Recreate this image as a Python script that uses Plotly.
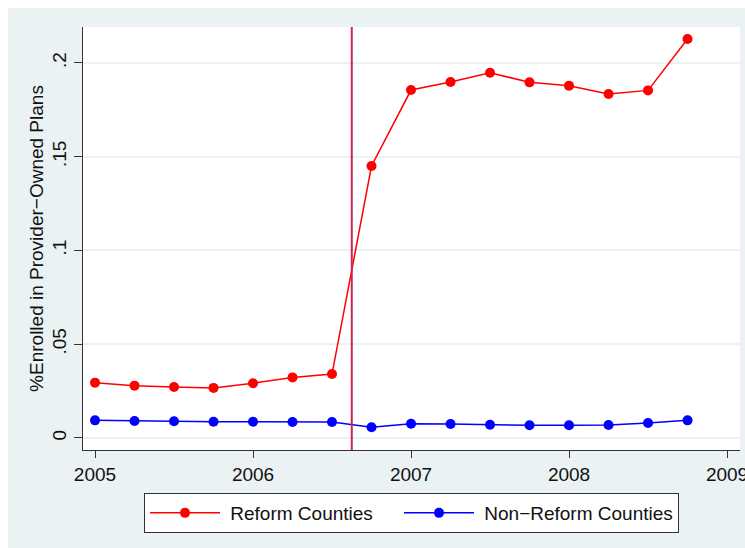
import plotly.graph_objects as go

# Quarterly observation dates (decimal years)
quarters = [2005.0, 2005.25, 2005.5, 2005.75,
            2006.0, 2006.25, 2006.5, 2006.75,
            2007.0, 2007.25, 2007.5, 2007.75,
            2008.0, 2008.25, 2008.5, 2008.75]

# Share enrolled in provider-owned plans
reform = [0.0295, 0.0279, 0.0272, 0.0267,
          0.0292, 0.0323, 0.0341, 0.1450,
          0.1855, 0.1898, 0.1947, 0.1896,
          0.1878, 0.1834, 0.1853, 0.2127]
non_reform = [0.0094, 0.0091, 0.0089, 0.0087,
              0.0087, 0.0085, 0.0085, 0.0057,
              0.0076, 0.0075, 0.0071, 0.0068,
              0.0068, 0.0069, 0.0080, 0.0094]

reform_date = 2006.625

x_ticks = [2005, 2006, 2007, 2008, 2009]
x_tick_labels = ["2005", "2006", "2007", "2008", "2009"]
y_ticks = [0, 0.05, 0.1, 0.15, 0.2]
y_tick_labels = ["0", ".05", ".1", ".15", ".2"]

BG = "#eaf2f3"
FONT = "Liberation Sans, Arial, Helvetica, sans-serif"
FS = 19
NB = "\u00a0"

fig = go.Figure()
fig.add_trace(go.Scatter(
    x=quarters, y=reform, mode="lines+markers", name=NB + "Reform Counties",
    line=dict(color="#ff0000", width=1.5),
    marker=dict(color="#ff0000", size=10),
    legendwidth=169,
))
fig.add_trace(go.Scatter(
    x=quarters, y=non_reform, mode="lines+markers", name=NB + "Non\u2212Reform Counties",
    line=dict(color="#0000ff", width=1.5),
    marker=dict(color="#0000ff", size=10),
))

# Reform start marker
fig.add_shape(type="line", xref="x", yref="paper", x0=reform_date, x1=reform_date,
              y0=0, y1=1, line=dict(color="#c8284c", width=2), layer="above")

# White margin strips along top and left of the page
fig.add_shape(type="rect", xref="paper", yref="paper", x0=-0.2, x1=1.1,
              y0=1.04492, y1=1.2, fillcolor="white", line=dict(width=0), layer="below")
fig.add_shape(type="rect", xref="paper", yref="paper", x0=-0.2, x1=-0.11416,
              y0=-0.3, y1=1.2, fillcolor="white", line=dict(width=0), layer="below")

fig.update_layout(
    width=745, height=548,
    margin=dict(l=83, r=5, t=27, b=98, autoexpand=False),
    paper_bgcolor=BG, plot_bgcolor="white",
    font=dict(family=FONT, size=FS, color="#111111"),
    showlegend=True,
    legend=dict(
        orientation="h", x=0.5, xanchor="center", y=-0.1017, yanchor="top",
        bgcolor="white", bordercolor="#333333", borderwidth=1,
        font=dict(size=FS), itemwidth=70, tracegroupgap=0,
    ),
    xaxis=dict(
        range=[2004.924, 2009.082], tickvals=x_ticks, ticktext=x_tick_labels,
        showgrid=False, zeroline=False, automargin=False,
        showline=True, linecolor="#333333", linewidth=1.2,
        ticks="outside", ticklen=7, tickcolor="#333333", tickwidth=1.2,
        tickfont=dict(size=FS), ticklabeloverflow="allow",
    ),
    yaxis=dict(
        range=[-0.0064, 0.2191], tickvals=y_ticks, ticktext=y_tick_labels,
        showgrid=True, gridcolor=BG, gridwidth=1.5, zeroline=False, automargin=False,
        showline=True, linecolor="#333333", linewidth=1.2,
        ticks="outside", ticklen=8, tickcolor="#333333", tickwidth=1.2,
        tickangle=-90, tickfont=dict(size=FS),
        title=dict(text="%Enrolled in Provider\u2212Owned Plans", font=dict(size=FS), standoff=0),
    ),
)

fig.write_html("out.html")
